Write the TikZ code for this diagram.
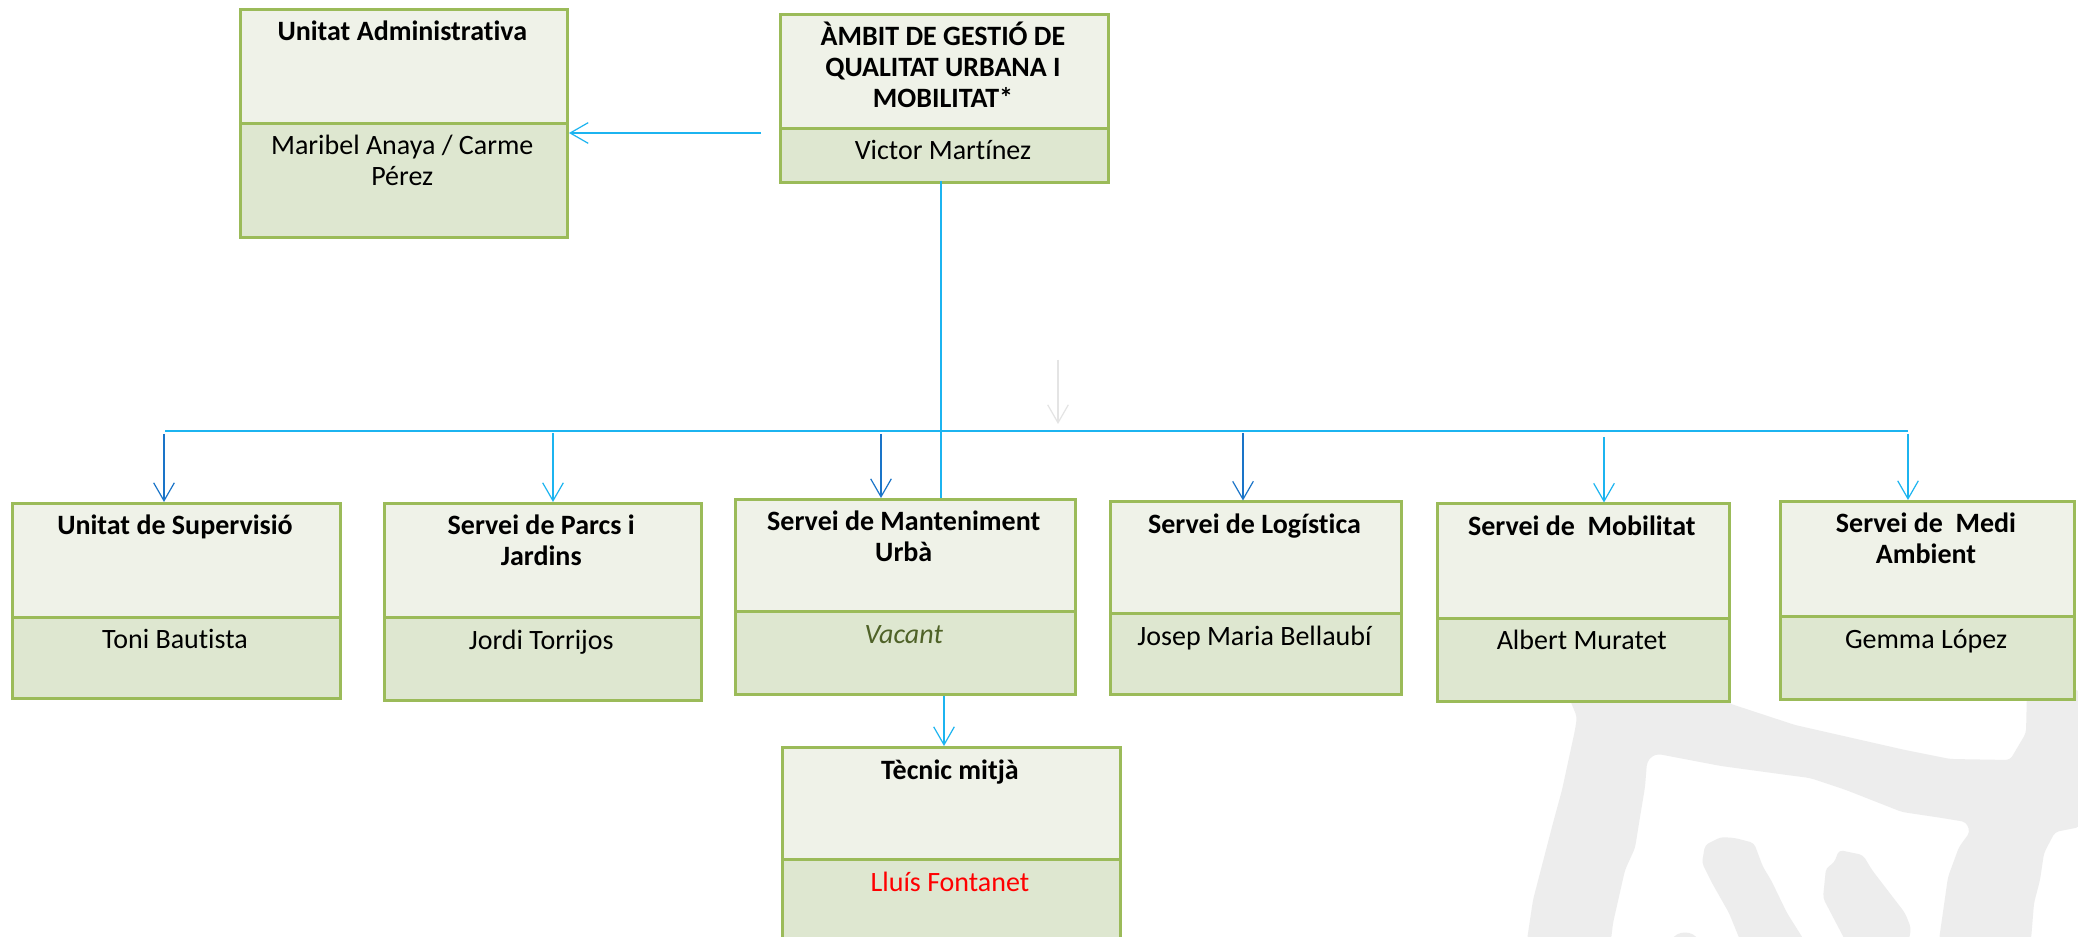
\documentclass[tikz,border=0pt]{standalone}
\usepackage{fontspec}
\setmainfont{Carlito}[Ligatures=CommonOff]
\usetikzlibrary{arrows.meta}
\definecolor{boxgreen}{HTML}{9BBB59}
\definecolor{hdrfill}{HTML}{EFF2E8}
\definecolor{perfill}{HTML}{DEE7D0}
\definecolor{cy}{HTML}{1CB4F0}
\definecolor{dk}{HTML}{1A74C8}
\definecolor{vacant}{HTML}{4F6228}
\definecolor{wmark}{HTML}{EDEDED}
\definecolor{faint}{HTML}{E4E4E4}
\newcommand\ml[1]{\begin{tabular}[t]{@{}c@{}}#1\end{tabular}}
\tikzset{
  hdr/.style={draw=boxgreen, line width=2.25pt, fill=hdrfill, inner sep=0pt, anchor=north west},
  per/.style={draw=boxgreen, line width=2.25pt, fill=perfill, inner sep=0pt, anchor=north west},
  ttl/.style={inner sep=0pt, anchor=base, font=\fontsize{21}{23.25}\selectfont\bfseries},
  nm/.style={inner sep=0pt, anchor=base, font=\fontsize{21}{23.25}\selectfont},
  arr/.style={line width=0.9pt, -{Straight Barb[length=13.5pt,width=15.5pt]}},
  bus/.style={draw=cy, line width=1.6pt},
  vline/.style={draw=cy, line width=1pt},
}
\newcommand\orgbox[8]{%
  \node[hdr, minimum width={(#4-#2)*0.75pt}, minimum height={(#5-#3)*0.75pt}] (#1) at (#2,#3) {};
  \node[per, minimum width={(#4-#2)*0.75pt}, minimum height={(#6-#5)*0.75pt}] (#1-p) at (#2,#5) {};
  \node[ttl] (#1-t) at ({(#2+#4)/2},{#3+33}) {\ml{#7}};
  \node[nm] (#1-n) at ({(#2+#4)/2},{#5+33}) {\ml{#8}};
}
\begin{document}
\begin{tikzpicture}[x=0.75pt,y=-0.75pt]
\useasboundingbox (0,0) rectangle (2078,937);
\clip (0,0) rectangle (2078,937);
\fill[white] (0,0) rectangle (2078,937);
% watermark
\fill[wmark, rounded corners=3pt] (1570,690) -- (1570,700) -- (1577,717) -- (1575,730) -- (1562,790) -- (1553,823) -- (1540,873) -- (1533,900) -- (1527,940)
  -- (1611,940) -- (1613,923) -- (1625,870) -- (1635,848) -- (1640,817) -- (1645,787) -- (1647,762) -- (1652,756) -- (1658,754)
  -- (1700,762) -- (1721,766) -- (1787,775) -- (1810,778) -- (1846,790) -- (1902,812) -- (1942,818) -- (1966,822) -- (1970,832)
  -- (1959,847) -- (1948,877) -- (1939,940) -- (2031,940) -- (2034,903) -- (2040,880) -- (2044,853) -- (2055,832) -- (2080,827)
  -- (2080,690) -- (2027,690) -- (2026,733) -- (2010,760) -- (1950,759) -- (1905,750) -- (1795,725) -- (1728,703) -- (1728,690) -- cycle;
\fill[wmark, rounded corners=3pt] (1702,863) -- (1705,845) -- (1721,837) -- (1735,838) -- (1754,843) -- (1763,867) -- (1771,880)
  -- (1787,913) -- (1804,940) -- (1740,940) -- (1729,913) -- (1712,883) -- cycle;
\fill[wmark, rounded corners=3pt] (1834,863) -- (1839,850) -- (1863,855) -- (1872,870) -- (1905,913) -- (1911,928) -- (1909,940)
  -- (1845,940) -- (1823,898) -- (1826,868) -- cycle;
\fill[wmark] (1672,940) .. controls (1676,930) and (1694,930) .. (1698,940) -- cycle;
% boxes
\orgbox{ua}{238.5}{8}{566}{122}{236}{Unitat Administrativa}{Maribel Anaya / Carme\\Pérez}
\orgbox{amb}{779}{13}{1107}{127}{181}{ÀMBIT DE GESTIÓ DE\\QUALITAT URBANA I\\MOBILITAT*}{Victor Martínez}
\orgbox{sup}{11}{502}{339}{615.5}{697}{Unitat de Supervisió}{Toni Bautista}
\orgbox{parcs}{383}{502}{699.5}{616}{699}{Servei de Parcs i\\Jardins}{Jordi Torrijos}
\orgbox{mant}{734}{498}{1073.5}{610}{693}{Servei de Manteniment\\Urbà}{{\color{vacant}\itshape Vacant}}
\orgbox{logi}{1109}{500.5}{1400}{612}{692.5}{Servei de Logística}{Josep Maria Bellaubí}
\orgbox{mob}{1435.5}{502.5}{1728}{616.5}{700}{Servei de~ Mobilitat}{Albert Muratet}
\orgbox{medi}{1779}{500}{2073}{615}{698}{Servei de~ Medi\\Ambient}{Gemma López}
\orgbox{tec}{781}{746}{1119}{858}{960}{Tècnic mitjà}{{\color{red}Lluís Fontanet}}
% connectors
\coordinate (uaA) at (761,133);
\draw[arr, draw=cy] (uaA) -- (uaA -| ua.east);
\coordinate (vtop) at (941,181);
\draw[vline] (vtop) -- (vtop |- mant.north);
\coordinate (fa) at (1058,360);
\coordinate (fb) at (1058,424);
\draw[arr, draw=faint] (fa) -- (fb);
\coordinate (busL) at (165,431);
\coordinate (busR) at (1908,431);
\draw[bus] (busL) -- (busR);
\foreach \n/\x/\y/\c in {sup/164/434/dk, parcs/553/433/cy, mant/881/434/dk, logi/1243/433/dk, mob/1604/437/cy, medi/1908/434/cy}{
  \coordinate (d-\n) at (\x,\y);
  \draw[arr, draw=\c] (d-\n) -- (d-\n |- \n.north);
}
\coordinate (dt) at (944,0);
\draw[arr, draw=cy] (mant-p.south -| dt) -- (dt |- tec.north);
\end{tikzpicture}
\end{document}
